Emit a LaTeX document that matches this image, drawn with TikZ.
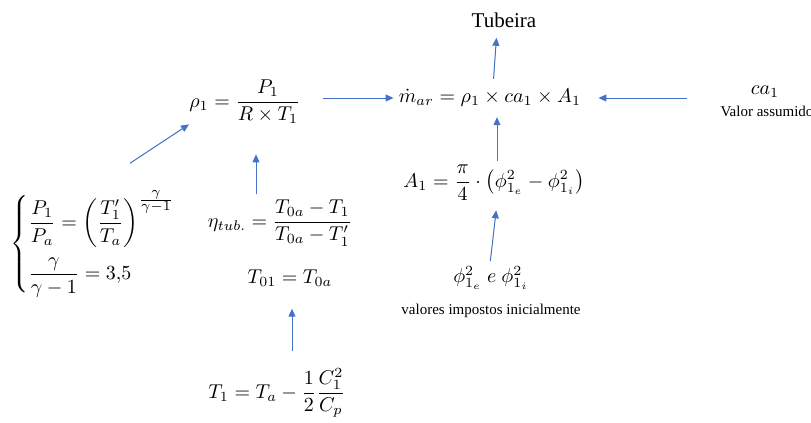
\documentclass[tikz,border=0pt]{standalone}
\usepackage{fontspec}
\setmainfont{Liberation Serif}
\usepackage{amsmath}
\usepackage{amssymb}
\usepackage{xcolor}
\usetikzlibrary{
  arrows.meta,
  positioning
}
\definecolor{setaazul}{RGB}{68,114,196}

\begin{document}
\begin{tikzpicture}[
    x=0.5pt,
    y=-0.5pt,
    >={Triangle[length=4pt,width=3.5pt]},
    eq/.style={inner sep=1pt,font=\fontsize{10.2}{12}\selectfont},
    nota/.style={inner sep=1pt,font=\fontsize{7.5}{9}\selectfont},
    seta/.style={->,draw=setaazul,fill=setaazul,line width=0.5pt}
    ]
    
    \useasboundingbox (0,0) rectangle (811,423);
    
    \node[eq,font=\fontsize{10.5}{12}\selectfont] (tubeira) at (504,20) {Tubeira};
    
    \node[eq] (mdot) at (490,98)
    {$\dot{m}_{ar}=\rho_1\times ca_1\times A_1$};
    
    \node[eq] (ca) at (765,92) {$ca_1$};
    \node[nota] (valor) at (767,111) {Valor assumido};
    
    \node[eq] (rho) at (245,102)
    {$\rho_1=\dfrac{P_1}{R\times T_1}$};
    
    \node[eq] (aone) at (494,183)
    {$A_1=\dfrac{\pi}{4}\cdot\left(\phi_{1_e}^2-\phi_{1_i}^2\right)$};
    
    \node[eq] (phi) at (491,278) {$\phi_{1_e}^2\ e\ \phi_{1_i}^2$};
    \node[nota] (impostos) at (491,311) {valores impostos inicialmente};
    
    \node[eq] (eta) at (280,223)
    {$\eta_{tub.}=\dfrac{T_{0a}-T_1}{T_{0a}-T'_1}$};
    
    \node[eq] (tzero) at (290,278) {$T_{01}=T_{0a}$};
    
    \node[eq] (tone) at (277,393)
    {$T_1=T_a-\dfrac{1}{2}\dfrac{C_1^2}{C_p}$};
    
    \node[eq,anchor=west,inner sep=0pt] (sistema) at (10,244)
    {$\left\{\begin{array}{@{}l@{}}
    \dfrac{P_1}{P_a}=\left(\dfrac{T'_1}{T_a}\right)^{\frac{\scriptstyle\gamma}{\scriptstyle\gamma-1}}\\[11pt]
    \dfrac{\gamma}{\gamma-1}=3{,}5
    \end{array}\right.$};
    
    % ligacoes
    \draw[seta] ([shift={(-23.5pt,13.5pt)}]sistema.north east) -- ([shift={(1pt,1pt)}]rho.south west);
    \draw[seta,shorten <=10pt,shorten >=1.5pt] (rho.east |- mdot.west) -- (mdot.west);
    \draw[seta,shorten <=31pt,shorten >=7.5pt] (ca.west |- mdot.east) -- (mdot.east);
    \draw[seta,shorten <=4pt,shorten >=4pt] ([xshift=1.5pt]mdot.north) -- ([xshift=-3.5pt]tubeira.south);
    \draw[seta,shorten <=1pt,shorten >=4pt] ([xshift=1.5pt]aone.north) -- ([xshift=1.5pt]aone.north |- mdot.south);
    \draw[seta,shorten <=1.5pt,shorten >=3.5pt] ([xshift=-0.5pt]phi.north) -- ([xshift=1.5pt]aone.south);
    \draw[seta,shorten <=1.5pt,shorten >=14pt] ([xshift=5.5pt]eta.north -| rho) coordinate (e1) -- (e1 |- rho.south);
    \draw[seta,shorten <=7.5pt,shorten >=10pt] ([xshift=1pt]tone.north -| tzero) coordinate (t1) -- (t1 |- tzero.south);
    
\end{tikzpicture}
\end{document}
